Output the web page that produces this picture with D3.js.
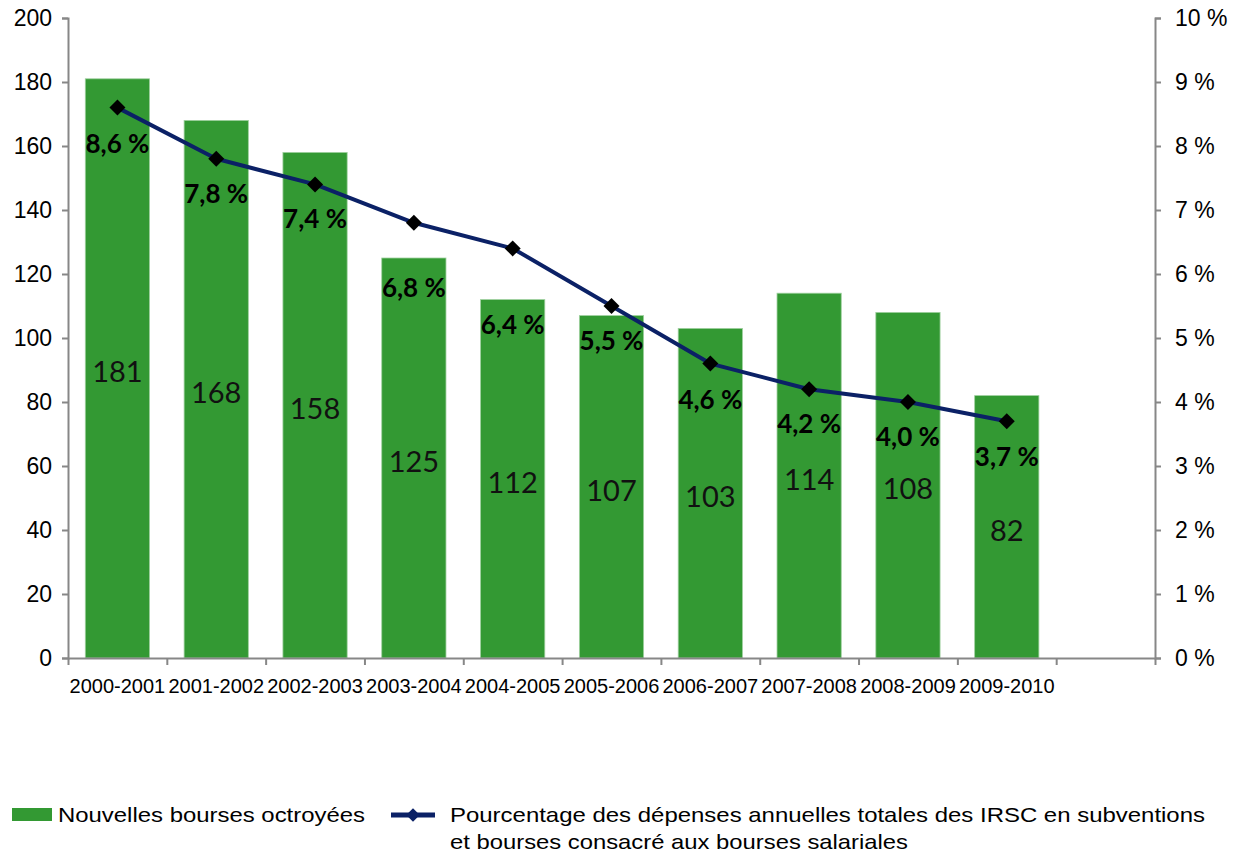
<!DOCTYPE html>
<html>
<head>
<meta charset="utf-8">
<script src="https://cdn.jsdelivr.net/npm/d3@7"></script>
<style>
  html, body { margin: 0; padding: 0; background: #fff; }
  svg { display: block; }
</style>
</head>
<body>
<svg id="chart" width="1235" height="852"></svg>
<script>
// ---- data ----
const categories = ["2000-2001","2001-2002","2002-2003","2003-2004","2004-2005","2005-2006","2006-2007","2007-2008","2008-2009","2009-2010",""];
const bourses = [181, 168, 158, 125, 112, 107, 103, 114, 108, 82];
const pourcentages = [8.6, 7.8, 7.4, 6.8, 6.4, 5.5, 4.6, 4.2, 4.0, 3.7];
const leftTicks = [0, 20, 40, 60, 80, 100, 120, 140, 160, 180, 200];
const rightTicks = [0, 1, 2, 3, 4, 5, 6, 7, 8, 9, 10];
const legendLabels = ["Nouvelles bourses octroyées",
  ["Pourcentage des dépenses annuelles totales des IRSC en subventions", "et bourses consacré aux bourses salariales"]];

(function () {
// layout (not data): vertical offsets of percent labels below their markers
const pctLabelOffsets = [36, 35, 35, 65, 77, 35, 36, 35, 35, 36];

const svg = d3.select("#chart");
const mLeft = 68, mRight = 1155, mTop = 18, mBottom = 658;
const green = "#339933", navy = "#0b2166", axisGray = "#878787";
const axisFont = "'Liberation Sans', Arial, sans-serif";
const labelFont = "Lato, 'Open Sans', sans-serif";

const x = d3.scaleBand().domain(categories.map((c, i) => i)).range([mLeft, mRight]).paddingInner(0).paddingOuter(0);
const yL = d3.scaleLinear().domain([0, 200]).range([mBottom, mTop]);
const yR = d3.scaleLinear().domain([0, 10]).range([mBottom, mTop]);
const barW = x.bandwidth() * 0.65;
const cx = i => x(i) + x.bandwidth() / 2;

// bars
svg.append("g").selectAll("rect").data(bourses).join("rect")
  .attr("x", (d, i) => cx(i) - barW / 2)
  .attr("y", d => yL(d))
  .attr("width", barW)
  .attr("height", d => mBottom - yL(d))
  .attr("fill", green)
  .attr("stroke", "#9fd09f").attr("stroke-width", 0.8);

// bar labels
svg.append("g").selectAll("text").data(bourses).join("text")
  .attr("x", (d, i) => cx(i))
  .attr("y", d => (yL(d) + mBottom) / 2 + 14)
  .attr("text-anchor", "middle")
  .attr("font-family", labelFont).attr("font-size", 29).attr("fill", "#111")
  .text(d => d);

// left axis
const axL = svg.append("g").attr("transform", `translate(${mLeft},0)`)
  .call(d3.axisLeft(yL).tickValues(leftTicks).tickSize(6).tickPadding(10).tickSizeOuter(6));
axL.selectAll("path, line").attr("stroke", axisGray).attr("stroke-width", 2);
axL.selectAll("text").attr("font-family", axisFont).attr("font-size", 23).attr("fill", "#000");

// right axis
const axR = svg.append("g").attr("transform", `translate(${mRight},0)`)
  .call(d3.axisRight(yR).tickValues(rightTicks).tickFormat(d => d + " %").tickSize(6).tickPadding(14).tickSizeOuter(6));
axR.selectAll("path, line").attr("stroke", axisGray).attr("stroke-width", 2);
axR.selectAll("text").attr("font-family", axisFont).attr("font-size", 23).attr("fill", "#000");

// bottom axis
const xTick = d3.scaleLinear().domain([0, categories.length]).range([mLeft, mRight]);
const axB = svg.append("g").attr("transform", `translate(0,${mBottom})`)
  .call(d3.axisBottom(xTick).tickValues(d3.range(categories.length + 1)).tickSize(7).tickSizeOuter(0).tickFormat(""));
axB.selectAll("path, line").attr("stroke", axisGray).attr("stroke-width", 2);
svg.append("g").selectAll("text").data(categories).join("text")
  .attr("x", (d, i) => cx(i))
  .attr("y", 693)
  .attr("text-anchor", "middle")
  .attr("font-family", axisFont).attr("font-size", 20).attr("fill", "#000")
  .text(d => d);

// line
const line = d3.line().x((d, i) => cx(i)).y(d => yR(d));
svg.append("path").datum(pourcentages)
  .attr("d", line).attr("fill", "none").attr("stroke", navy).attr("stroke-width", 4)
  .attr("stroke-linejoin", "round");
svg.append("g").selectAll("path").data(pourcentages).join("path")
  .attr("d", d3.symbol().type(d3.symbolSquare).size(128)())
  .attr("transform", (d, i) => `translate(${cx(i)},${yR(d)}) rotate(45)`)
  .attr("fill", "#000");

// percent labels
svg.append("g").selectAll("text").data(pourcentages).join("text")
  .attr("x", (d, i) => cx(i))
  .attr("y", (d, i) => yR(d) + pctLabelOffsets[i] + 9)
  .attr("text-anchor", "middle")
  .attr("font-family", labelFont).attr("font-weight", "bold").attr("font-size", 26).attr("fill", "#000")
  .text(d => d.toFixed(1).replace(".", ",") + " %");

// legend
const lg = svg.append("g");
lg.append("rect").attr("x", 12).attr("y", 808).attr("width", 40).attr("height", 13).attr("fill", green);
lg.append("text").attr("x", 58).attr("y", 822)
  .attr("textLength", 307).attr("lengthAdjust", "spacingAndGlyphs")
  .attr("font-family", axisFont).attr("font-size", 21).attr("fill", "#000").text(legendLabels[0]);
lg.append("line").attr("x1", 391).attr("x2", 435).attr("y1", 815).attr("y2", 815)
  .attr("stroke", navy).attr("stroke-width", 5);
lg.append("path").attr("d", d3.symbol().type(d3.symbolSquare).size(90)())
  .attr("transform", "translate(413,815) rotate(45)").attr("fill", navy);
lg.append("text").attr("x", 450).attr("y", 822)
  .attr("textLength", 755).attr("lengthAdjust", "spacingAndGlyphs")
  .attr("font-family", axisFont).attr("font-size", 21).attr("fill", "#000").text(legendLabels[1][0]);
lg.append("text").attr("x", 450).attr("y", 849)
  .attr("textLength", 458).attr("lengthAdjust", "spacingAndGlyphs")
  .attr("font-family", axisFont).attr("font-size", 21).attr("fill", "#000").text(legendLabels[1][1]);
})();
</script>
</body>
</html>
